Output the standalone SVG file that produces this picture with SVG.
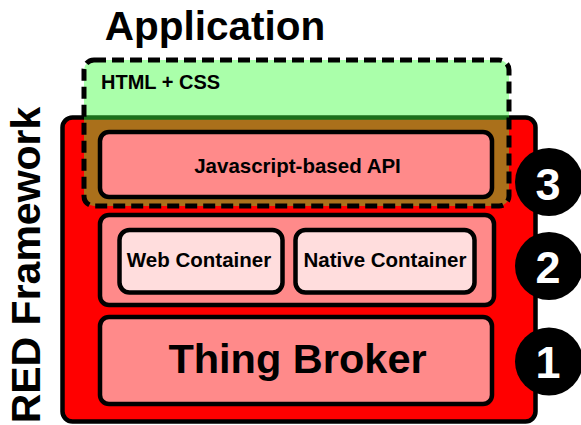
<svg xmlns="http://www.w3.org/2000/svg" width="581" height="425" viewBox="0 0 581 425">
  <style>
    text { font-family: "Liberation Sans", Arial, sans-serif; font-weight: bold; fill: #000; }
    .box { stroke: #000; stroke-width: 4.5; }
    .layer { fill: #ff8a8a; }
    .inner { fill: #ffdddd; }
    .badge { fill: #000; }
    .num { fill: #fff; font-size: 45px; text-anchor: middle; }
    .mid { text-anchor: middle; }
  </style>
  <rect width="581" height="425" fill="#fff"/>
  <text x="215" y="40" class="mid" font-size="40.5">Application</text>
  <g id="red-framework">
    <rect class="box" x="62.5" y="117.5" width="473" height="304" rx="10" fill="#ff0000"/>
    <text transform="translate(39.5,265) rotate(-90)" class="mid" font-size="41">RED Framework</text>
  </g>
  <g id="application">
    <rect x="84" y="60" width="425" height="146" rx="10" fill="rgb(61,255,61)" fill-opacity="0.44"/>
    <text x="101" y="89" font-size="20">HTML + CSS</text>
  </g>
  <g id="js-api">
    <rect class="box layer" x="100" y="132" width="392" height="65" rx="9"/>
    <text x="297.5" y="173" class="mid" font-size="20.5">Javascript-based API</text>
  </g>
  <rect id="application-border" x="84" y="60" width="425" height="146" rx="10" fill="none" stroke="#000" stroke-width="5" stroke-dasharray="12 6"/>
  <g id="containers">
    <rect class="box layer" x="100" y="215" width="394" height="90" rx="9"/>
  </g>
  <g id="web-container">
    <rect class="box inner" x="119.5" y="230" width="163" height="62.5" rx="10"/>
    <text x="199" y="267" class="mid" font-size="20.5">Web Container</text>
  </g>
  <g id="native-container">
    <rect class="box inner" x="295.5" y="230" width="179" height="62.5" rx="10"/>
    <text x="385" y="267" class="mid" font-size="20.5">Native Container</text>
  </g>
  <g id="thing-broker">
    <rect class="box layer" x="100" y="317" width="392" height="87" rx="9"/>
    <text x="297.5" y="373" class="mid" font-size="41.5">Thing Broker</text>
  </g>
  <g id="badge-3">
    <circle class="badge" cx="549" cy="182" r="34"/>
    <text class="num" x="548" y="200">3</text>
  </g>
  <g id="badge-2">
    <circle class="badge" cx="549" cy="266" r="34"/>
    <text class="num" x="548" y="283">2</text>
  </g>
  <g id="badge-1">
    <circle class="badge" cx="549" cy="361.5" r="34"/>
    <text class="num" x="548" y="378">1</text>
  </g>
</svg>
